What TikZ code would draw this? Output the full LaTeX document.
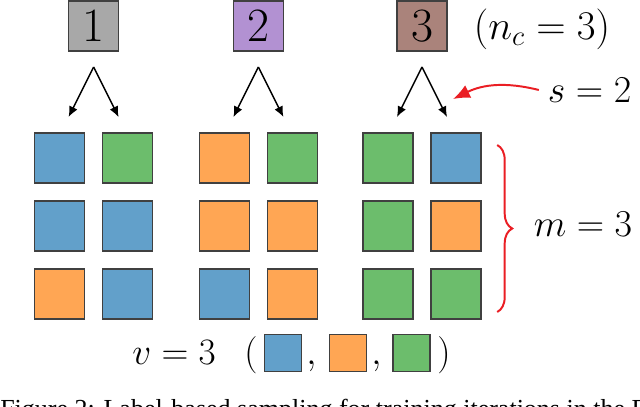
\documentclass[tikz,border=0pt]{standalone}
\usepackage{fix-cm}
\usepackage{fontspec}
\newfontfamily\capfont{Liberation Serif}
\usepackage{tikz}
\usetikzlibrary{arrows.meta, decorations.pathreplacing}
\tikzset{>={Latex[length=7.5pt, width=6.5pt]}}
\usepackage{xcolor}
\definecolor{cblue}{RGB}{98,160,202}
\definecolor{corange}{RGB}{255,166,84}
\definecolor{cgreen}{RGB}{108,189,108}
\definecolor{cgray}{RGB}{168,168,168}
\definecolor{cpurple}{RGB}{178,145,210}
\definecolor{cbrown}{RGB}{170,131,123}
\definecolor{cred}{RGB}{234,30,36}

\begin{document}
\begin{tikzpicture}[
    cell/.style={draw=black!75, line width=0.9pt, minimum size=1.25cm, inner sep=0pt},
    keycell/.style={cell, minimum size=0.925cm},
    classbox/.style={cell, font=\fontsize{34}{36}\selectfont},
    split/.style={->, line width=1pt},
    mathlabel/.style={font=\fontsize{27}{30}\selectfont}
  ]
  \useasboundingbox (0, 0) rectangle (16, 10.15);

  % classes
  \node[classbox, fill=cgray] (class1) at (2.34, 9.5) {1};
  \node[classbox, fill=cpurple] (class2) at (6.46, 9.5) {2};
  \node[classbox, fill=cbrown] (class3) at (10.55, 9.5) {3};
  \node[font=\fontsize{29}{31}\selectfont] (nc) at (13.55, 9.41) {$(n_c = 3)$};

  % two samples per class
  \foreach \i/\x in {1/2.34, 2/6.46, 3/10.55}{
    \coordinate (top\i) at (\x, 8.475);
    \coordinate (left\i) at (\x-0.625, 7.225);
    \coordinate (right\i) at (\x+0.625, 7.225);
    \draw[split] (top\i) -- (left\i);
    \draw[split] (top\i) -- (right\i);
  }

  % views
  \foreach \g/\x/\a/\b/\c/\d/\e/\f in {1/2.34/cblue/cgreen/cblue/cblue/corange/cblue,
      2/6.46/corange/cgreen/corange/corange/cblue/corange,
      3/10.55/cgreen/cblue/cgreen/corange/cgreen/cgreen}{
    \node[cell, fill=\a] (c\g-1-1) at (\x-0.85, 6.2) {};
    \node[cell, fill=\b] (c\g-1-2) at (\x+0.85, 6.2) {};
    \node[cell, fill=\c] (c\g-2-1) at (\x-0.85, 4.5) {};
    \node[cell, fill=\d] (c\g-2-2) at (\x+0.85, 4.5) {};
    \node[cell, fill=\e] (c\g-3-1) at (\x-0.85, 2.8) {};
    \node[cell, fill=\f] (c\g-3-2) at (\x+0.85, 2.8) {};
  }

  % s
  \node[mathlabel, inner sep=0.22cm] (s2) at (14.74, 7.9) {$s = 2$};
  \coordinate (stip) at (11.325, 7.675);
  \draw[->, cred, line width=1.4pt, >={Latex[length=12pt, width=10pt]}]
    (s2.west) to[bend right=20] (stip);

  % m
  \coordinate (bracetop) at (12.43, 6.525);
  \coordinate (bracebot) at (12.43, 2.35);
  \draw[cred, line width=1.4pt, decorate, decoration={brace, amplitude=0.375cm}]
    (bracetop) -- (bracebot);
  \node[mathlabel] (m3) at (14.575, 4.54) {$m = 3$};

  % v
  \node[mathlabel, font=\fontsize{26.5}{29}\selectfont, anchor=base west, inner sep=0pt]
    (v3) at (3.3, 1.05) {$v = 3$};
  \node[font=\fontsize{26.5}{29}\selectfont, anchor=base west, inner sep=0pt]
    (lpar) at (6.1, 1.05) {$($};
  \node[keycell, fill=cblue] (kblue) at (7.075, 1.325) {};
  \node[font=\fontsize{26.5}{29}\selectfont, anchor=base west, inner sep=0pt]
    (comma1) at (7.65, 1.05) {$,$};
  \node[keycell, fill=corange] (korange) at (8.7, 1.325) {};
  \node[font=\fontsize{26.5}{29}\selectfont, anchor=base west, inner sep=0pt]
    (comma2) at (9.28, 1.05) {$,$};
  \node[keycell, fill=cgreen] (kgreen) at (10.29, 1.325) {};
  \node[font=\fontsize{26.5}{29}\selectfont, anchor=base west, inner sep=0pt]
    (rpar) at (10.93, 1.05) {$)$};

  % caption, cut by the page edge as in the source
  \node[anchor=base west, inner sep=0pt, font=\capfont\fontsize{18.5}{20}\selectfont]
    (caption) at (0, -0.275) {Figure 2: Label-based sampling for training iterations in the F};
\end{tikzpicture}
\end{document}
